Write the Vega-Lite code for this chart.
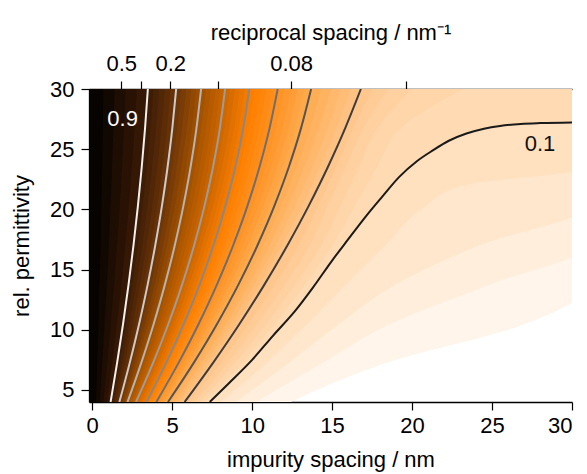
{
"width": 483, "height": 313,
"autosize": {"type": "none"},
"padding": {"left": 89, "top": 89, "right": 15, "bottom": 72},
"background": "#ffffff",
"config": {"font": "Liberation Sans", "view": {"stroke": null},
 "axis": {"domainColor": "#000", "tickColor": "#000", "labelColor": "#000", "titleColor": "#000", "labelFontSize": 22, "titleFontSize": 22, "titleFontWeight": "normal", "tickSize": 8, "grid": false, "domainWidth": 1.3, "tickWidth": 1.2}},
"resolve": {"axis": {"x": "independent", "y": "independent"}},
"datasets": {
"bands": [
{"l":0.02,"y":4,"x":12.4},{"l":0.02,"y":7.25,"x":18.38},{"l":0.02,"y":10.5,"x":27.1},{"l":0.02,"y":13.75,"x":31},{"l":0.02,"y":17,"x":31},{"l":0.02,"y":20.25,"x":31},{"l":0.02,"y":23.5,"x":31},{"l":0.02,"y":26.75,"x":31},{"l":0.02,"y":30,"x":31},
{"l":0.04,"y":4,"x":10.23},{"l":0.04,"y":7.25,"x":14.39},{"l":0.04,"y":10.5,"x":18.66},{"l":0.04,"y":13.75,"x":24.83},{"l":0.04,"y":17,"x":31},{"l":0.04,"y":20.25,"x":31},{"l":0.04,"y":23.5,"x":31},{"l":0.04,"y":26.75,"x":31},{"l":0.04,"y":30,"x":31},
{"l":0.06,"y":4,"x":8.95},{"l":0.06,"y":7.25,"x":12.3},{"l":0.06,"y":10.5,"x":15.46},{"l":0.06,"y":13.75,"x":18.95},{"l":0.06,"y":17,"x":24.18},{"l":0.06,"y":20.25,"x":31},{"l":0.06,"y":23.5,"x":31},{"l":0.06,"y":26.75,"x":31},{"l":0.06,"y":30,"x":31},
{"l":0.08,"y":4,"x":8.05},{"l":0.08,"y":7.25,"x":10.89},{"l":0.08,"y":10.5,"x":13.45},{"l":0.08,"y":13.75,"x":15.85},{"l":0.08,"y":17,"x":18.3},{"l":0.08,"y":20.25,"x":20.8},{"l":0.08,"y":22,"x":23.2},{"l":0.08,"y":23.5,"x":31},{"l":0.08,"y":26.75,"x":31},{"l":0.08,"y":30,"x":31},
{"l":0.1,"y":4,"x":7.35},{"l":0.1,"y":5.5,"x":8.5},{"l":0.1,"y":7.5,"x":10},{"l":0.1,"y":9.5,"x":11.3},{"l":0.1,"y":11.5,"x":12.65},{"l":0.1,"y":13.5,"x":13.8},{"l":0.1,"y":15.75,"x":15},{"l":0.1,"y":17.5,"x":16},{"l":0.1,"y":19.4,"x":17.1},{"l":0.1,"y":21,"x":18.1},{"l":0.1,"y":22.7,"x":19.2},{"l":0.1,"y":24,"x":20.3},{"l":0.1,"y":24.9,"x":21.3},{"l":0.1,"y":25.7,"x":22.3},{"l":0.1,"y":26.3,"x":23.4},{"l":0.1,"y":26.7,"x":24.5},{"l":0.1,"y":26.93,"x":25.5},{"l":0.1,"y":27.1,"x":26.8},{"l":0.1,"y":27.17,"x":28},{"l":0.1,"y":27.22,"x":30},{"l":0.1,"y":27.3,"x":31},{"l":0.1,"y":30,"x":31},
{"l":0.12,"y":4,"x":7.036},{"l":0.12,"y":7.25,"x":9.356},{"l":0.12,"y":10.5,"x":11.426},{"l":0.12,"y":13.75,"x":13.294},{"l":0.12,"y":17,"x":15.008},{"l":0.12,"y":20.25,"x":16.4},{"l":0.12,"y":23.5,"x":17.8},{"l":0.12,"y":26.75,"x":19.29},{"l":0.12,"y":30,"x":23.17},
{"l":0.14,"y":4,"x":6.722},{"l":0.14,"y":7.25,"x":8.906},{"l":0.14,"y":10.5,"x":10.874},{"l":0.14,"y":13.75,"x":12.662},{"l":0.14,"y":17,"x":14.306},{"l":0.14,"y":20.25,"x":15.5},{"l":0.14,"y":23.5,"x":16.65},{"l":0.14,"y":26.75,"x":17.83},{"l":0.14,"y":30,"x":19.99},
{"l":0.16,"y":4,"x":6.408},{"l":0.16,"y":7.25,"x":8.456},{"l":0.16,"y":10.5,"x":10.322},{"l":0.16,"y":13.75,"x":12.03},{"l":0.16,"y":17,"x":13.604},{"l":0.16,"y":20.25,"x":14.7},{"l":0.16,"y":23.5,"x":15.84},{"l":0.16,"y":26.75,"x":16.95},{"l":0.16,"y":30,"x":18.5},
{"l":0.18,"y":4,"x":6.094},{"l":0.18,"y":7.25,"x":8.006},{"l":0.18,"y":10.5,"x":9.77},{"l":0.18,"y":13.75,"x":11.398},{"l":0.18,"y":17,"x":12.902},{"l":0.18,"y":20.25,"x":14.1},{"l":0.18,"y":23.5,"x":15.23},{"l":0.18,"y":26.75,"x":16.31},{"l":0.18,"y":30,"x":17.53},
{"l":0.2,"y":4,"x":5.78},{"l":0.2,"y":7.25,"x":7.556},{"l":0.2,"y":10.5,"x":9.218},{"l":0.2,"y":13.75,"x":10.766},{"l":0.2,"y":17,"x":12.2},{"l":0.2,"y":20.25,"x":13.521},{"l":0.2,"y":23.5,"x":14.728},{"l":0.2,"y":26.75,"x":15.821},{"l":0.2,"y":30,"x":16.8},
{"l":0.22,"y":4,"x":5.572},{"l":0.22,"y":7.25,"x":7.314},{"l":0.22,"y":10.5,"x":8.937},{"l":0.22,"y":13.75,"x":10.441},{"l":0.22,"y":17,"x":11.826},{"l":0.22,"y":20.25,"x":13.093},{"l":0.22,"y":23.5,"x":14.24},{"l":0.22,"y":26.75,"x":15.269},{"l":0.22,"y":30,"x":16.178},
{"l":0.24,"y":4,"x":5.364},{"l":0.24,"y":7.25,"x":7.072},{"l":0.24,"y":10.5,"x":8.656},{"l":0.24,"y":13.75,"x":10.116},{"l":0.24,"y":17,"x":11.452},{"l":0.24,"y":20.25,"x":12.664},{"l":0.24,"y":23.5,"x":13.752},{"l":0.24,"y":26.75,"x":14.716},{"l":0.24,"y":30,"x":15.556},
{"l":0.26,"y":4,"x":5.156},{"l":0.26,"y":7.25,"x":6.831},{"l":0.26,"y":10.5,"x":8.376},{"l":0.26,"y":13.75,"x":9.792},{"l":0.26,"y":17,"x":11.078},{"l":0.26,"y":20.25,"x":12.236},{"l":0.26,"y":23.5,"x":13.265},{"l":0.26,"y":26.75,"x":14.164},{"l":0.26,"y":30,"x":14.934},
{"l":0.28,"y":4,"x":4.948},{"l":0.28,"y":7.25,"x":6.589},{"l":0.28,"y":10.5,"x":8.095},{"l":0.28,"y":13.75,"x":9.467},{"l":0.28,"y":17,"x":10.704},{"l":0.28,"y":20.25,"x":11.807},{"l":0.28,"y":23.5,"x":12.777},{"l":0.28,"y":26.75,"x":13.611},{"l":0.28,"y":30,"x":14.312},
{"l":0.3,"y":4,"x":4.74},{"l":0.3,"y":7.25,"x":6.347},{"l":0.3,"y":10.5,"x":7.814},{"l":0.3,"y":13.75,"x":9.142},{"l":0.3,"y":17,"x":10.33},{"l":0.3,"y":20.25,"x":11.379},{"l":0.3,"y":23.5,"x":12.289},{"l":0.3,"y":26.75,"x":13.059},{"l":0.3,"y":30,"x":13.69},
{"l":0.32,"y":4,"x":4.594},{"l":0.32,"y":7.25,"x":6.157},{"l":0.32,"y":10.5,"x":7.583},{"l":0.32,"y":13.75,"x":8.873},{"l":0.32,"y":17,"x":10.026},{"l":0.32,"y":20.25,"x":11.042},{"l":0.32,"y":23.5,"x":11.922},{"l":0.32,"y":26.75,"x":12.665},{"l":0.32,"y":30,"x":13.272},
{"l":0.34,"y":4,"x":4.448},{"l":0.34,"y":7.25,"x":5.967},{"l":0.34,"y":10.5,"x":7.353},{"l":0.34,"y":13.75,"x":8.604},{"l":0.34,"y":17,"x":9.722},{"l":0.34,"y":20.25,"x":10.706},{"l":0.34,"y":23.5,"x":11.556},{"l":0.34,"y":26.75,"x":12.272},{"l":0.34,"y":30,"x":12.854},
{"l":0.36,"y":4,"x":4.302},{"l":0.36,"y":7.25,"x":5.778},{"l":0.36,"y":10.5,"x":7.122},{"l":0.36,"y":13.75,"x":8.336},{"l":0.36,"y":17,"x":9.418},{"l":0.36,"y":20.25,"x":10.369},{"l":0.36,"y":23.5,"x":11.189},{"l":0.36,"y":26.75,"x":11.878},{"l":0.36,"y":30,"x":12.436},
{"l":0.38,"y":4,"x":4.156},{"l":0.38,"y":7.25,"x":5.588},{"l":0.38,"y":10.5,"x":6.892},{"l":0.38,"y":13.75,"x":8.067},{"l":0.38,"y":17,"x":9.114},{"l":0.38,"y":20.25,"x":10.033},{"l":0.38,"y":23.5,"x":10.823},{"l":0.38,"y":26.75,"x":11.485},{"l":0.38,"y":30,"x":12.018},
{"l":0.4,"y":4,"x":4.01},{"l":0.4,"y":7.25,"x":5.398},{"l":0.4,"y":10.5,"x":6.661},{"l":0.4,"y":13.75,"x":7.798},{"l":0.4,"y":17,"x":8.81},{"l":0.4,"y":20.25,"x":9.696},{"l":0.4,"y":23.5,"x":10.456},{"l":0.4,"y":26.75,"x":11.091},{"l":0.4,"y":30,"x":11.6},
{"l":0.42,"y":4,"x":3.888},{"l":0.42,"y":7.25,"x":5.244},{"l":0.42,"y":10.5,"x":6.475},{"l":0.42,"y":13.75,"x":7.582},{"l":0.42,"y":17,"x":8.564},{"l":0.42,"y":20.25,"x":9.421},{"l":0.42,"y":23.5,"x":10.154},{"l":0.42,"y":26.75,"x":10.762},{"l":0.42,"y":30,"x":11.246},
{"l":0.44,"y":4,"x":3.766},{"l":0.44,"y":7.25,"x":5.089},{"l":0.44,"y":10.5,"x":6.289},{"l":0.44,"y":13.75,"x":7.365},{"l":0.44,"y":17,"x":8.318},{"l":0.44,"y":20.25,"x":9.147},{"l":0.44,"y":23.5,"x":9.852},{"l":0.44,"y":26.75,"x":10.434},{"l":0.44,"y":30,"x":10.892},
{"l":0.46,"y":4,"x":3.644},{"l":0.46,"y":7.25,"x":4.935},{"l":0.46,"y":10.5,"x":6.103},{"l":0.46,"y":13.75,"x":7.149},{"l":0.46,"y":17,"x":8.072},{"l":0.46,"y":20.25,"x":8.872},{"l":0.46,"y":23.5,"x":9.55},{"l":0.46,"y":26.75,"x":10.105},{"l":0.46,"y":30,"x":10.538},
{"l":0.48,"y":4,"x":3.522},{"l":0.48,"y":7.25,"x":4.78},{"l":0.48,"y":10.5,"x":5.917},{"l":0.48,"y":13.75,"x":6.932},{"l":0.48,"y":17,"x":7.826},{"l":0.48,"y":20.25,"x":8.598},{"l":0.48,"y":23.5,"x":9.248},{"l":0.48,"y":26.75,"x":9.777},{"l":0.48,"y":30,"x":10.184},
{"l":0.5,"y":4,"x":3.4},{"l":0.5,"y":7.25,"x":4.626},{"l":0.5,"y":10.5,"x":5.731},{"l":0.5,"y":13.75,"x":6.716},{"l":0.5,"y":17,"x":7.58},{"l":0.5,"y":20.25,"x":8.323},{"l":0.5,"y":23.5,"x":8.946},{"l":0.5,"y":26.75,"x":9.448},{"l":0.5,"y":30,"x":9.83},
{"l":0.52,"y":4,"x":3.268},{"l":0.52,"y":7.25,"x":4.462},{"l":0.52,"y":10.5,"x":5.538},{"l":0.52,"y":13.75,"x":6.497},{"l":0.52,"y":17,"x":7.338},{"l":0.52,"y":20.25,"x":8.061},{"l":0.52,"y":23.5,"x":8.667},{"l":0.52,"y":26.75,"x":9.155},{"l":0.52,"y":30,"x":9.526},
{"l":0.54,"y":4,"x":3.136},{"l":0.54,"y":7.25,"x":4.298},{"l":0.54,"y":10.5,"x":5.345},{"l":0.54,"y":13.75,"x":6.278},{"l":0.54,"y":17,"x":7.096},{"l":0.54,"y":20.25,"x":7.799},{"l":0.54,"y":23.5,"x":8.388},{"l":0.54,"y":26.75,"x":8.862},{"l":0.54,"y":30,"x":9.222},
{"l":0.56,"y":4,"x":3.004},{"l":0.56,"y":7.25,"x":4.134},{"l":0.56,"y":10.5,"x":5.152},{"l":0.56,"y":13.75,"x":6.059},{"l":0.56,"y":17,"x":6.854},{"l":0.56,"y":20.25,"x":7.537},{"l":0.56,"y":23.5,"x":8.109},{"l":0.56,"y":26.75,"x":8.569},{"l":0.56,"y":30,"x":8.918},
{"l":0.58,"y":4,"x":2.872},{"l":0.58,"y":7.25,"x":3.97},{"l":0.58,"y":10.5,"x":4.959},{"l":0.58,"y":13.75,"x":5.84},{"l":0.58,"y":17,"x":6.612},{"l":0.58,"y":20.25,"x":7.275},{"l":0.58,"y":23.5,"x":7.83},{"l":0.58,"y":26.75,"x":8.276},{"l":0.58,"y":30,"x":8.614},
{"l":0.6,"y":4,"x":2.74},{"l":0.6,"y":7.25,"x":3.806},{"l":0.6,"y":10.5,"x":4.766},{"l":0.6,"y":13.75,"x":5.621},{"l":0.6,"y":17,"x":6.37},{"l":0.6,"y":20.25,"x":7.013},{"l":0.6,"y":23.5,"x":7.551},{"l":0.6,"y":26.75,"x":7.983},{"l":0.6,"y":30,"x":8.31},
{"l":0.62,"y":4,"x":2.634},{"l":0.62,"y":7.25,"x":3.659},{"l":0.62,"y":10.5,"x":4.582},{"l":0.62,"y":13.75,"x":5.406},{"l":0.62,"y":17,"x":6.128},{"l":0.62,"y":20.25,"x":6.749},{"l":0.62,"y":23.5,"x":7.27},{"l":0.62,"y":26.75,"x":7.69},{"l":0.62,"y":30,"x":8.01},
{"l":0.64,"y":4,"x":2.528},{"l":0.64,"y":7.25,"x":3.511},{"l":0.64,"y":10.5,"x":4.399},{"l":0.64,"y":13.75,"x":5.19},{"l":0.64,"y":17,"x":5.886},{"l":0.64,"y":20.25,"x":6.485},{"l":0.64,"y":23.5,"x":6.99},{"l":0.64,"y":26.75,"x":7.397},{"l":0.64,"y":30,"x":7.71},
{"l":0.66,"y":4,"x":2.422},{"l":0.66,"y":7.25,"x":3.364},{"l":0.66,"y":10.5,"x":4.215},{"l":0.66,"y":13.75,"x":4.975},{"l":0.66,"y":17,"x":5.644},{"l":0.66,"y":20.25,"x":6.222},{"l":0.66,"y":23.5,"x":6.709},{"l":0.66,"y":26.75,"x":7.105},{"l":0.66,"y":30,"x":7.41},
{"l":0.68,"y":4,"x":2.316},{"l":0.68,"y":7.25,"x":3.216},{"l":0.68,"y":10.5,"x":4.032},{"l":0.68,"y":13.75,"x":4.759},{"l":0.68,"y":17,"x":5.402},{"l":0.68,"y":20.25,"x":5.958},{"l":0.68,"y":23.5,"x":6.429},{"l":0.68,"y":26.75,"x":6.812},{"l":0.68,"y":30,"x":7.11},
{"l":0.7,"y":4,"x":2.21},{"l":0.7,"y":7.25,"x":3.069},{"l":0.7,"y":10.5,"x":3.848},{"l":0.7,"y":13.75,"x":4.544},{"l":0.7,"y":17,"x":5.16},{"l":0.7,"y":20.25,"x":5.694},{"l":0.7,"y":23.5,"x":6.148},{"l":0.7,"y":26.75,"x":6.519},{"l":0.7,"y":30,"x":6.81},
{"l":0.72,"y":4,"x":2.108},{"l":0.72,"y":7.25,"x":2.925},{"l":0.72,"y":10.5,"x":3.666},{"l":0.72,"y":13.75,"x":4.329},{"l":0.72,"y":17,"x":4.916},{"l":0.72,"y":20.25,"x":5.426},{"l":0.72,"y":23.5,"x":5.861},{"l":0.72,"y":26.75,"x":6.217},{"l":0.72,"y":30,"x":6.498},
{"l":0.74,"y":4,"x":2.006},{"l":0.74,"y":7.25,"x":2.78},{"l":0.74,"y":10.5,"x":3.483},{"l":0.74,"y":13.75,"x":4.113},{"l":0.74,"y":17,"x":4.672},{"l":0.74,"y":20.25,"x":5.158},{"l":0.74,"y":23.5,"x":5.573},{"l":0.74,"y":26.75,"x":5.915},{"l":0.74,"y":30,"x":6.186},
{"l":0.76,"y":4,"x":1.904},{"l":0.76,"y":7.25,"x":2.636},{"l":0.76,"y":10.5,"x":3.301},{"l":0.76,"y":13.75,"x":3.898},{"l":0.76,"y":17,"x":4.428},{"l":0.76,"y":20.25,"x":4.891},{"l":0.76,"y":23.5,"x":5.286},{"l":0.76,"y":26.75,"x":5.614},{"l":0.76,"y":30,"x":5.874},
{"l":0.78,"y":4,"x":1.802},{"l":0.78,"y":7.25,"x":2.491},{"l":0.78,"y":10.5,"x":3.118},{"l":0.78,"y":13.75,"x":3.682},{"l":0.78,"y":17,"x":4.184},{"l":0.78,"y":20.25,"x":4.623},{"l":0.78,"y":23.5,"x":4.998},{"l":0.78,"y":26.75,"x":5.312},{"l":0.78,"y":30,"x":5.562},
{"l":0.8,"y":4,"x":1.7},{"l":0.8,"y":7.25,"x":2.347},{"l":0.8,"y":10.5,"x":2.936},{"l":0.8,"y":13.75,"x":3.467},{"l":0.8,"y":17,"x":3.94},{"l":0.8,"y":20.25,"x":4.355},{"l":0.8,"y":23.5,"x":4.711},{"l":0.8,"y":26.75,"x":5.01},{"l":0.8,"y":30,"x":5.25},
{"l":0.82,"y":4,"x":1.59},{"l":0.82,"y":7.25,"x":2.189},{"l":0.82,"y":10.5,"x":2.735},{"l":0.82,"y":13.75,"x":3.228},{"l":0.82,"y":17,"x":3.668},{"l":0.82,"y":20.25,"x":4.055},{"l":0.82,"y":23.5,"x":4.388},{"l":0.82,"y":26.75,"x":4.669},{"l":0.82,"y":30,"x":4.896},
{"l":0.84,"y":4,"x":1.48},{"l":0.84,"y":7.25,"x":2.031},{"l":0.84,"y":10.5,"x":2.534},{"l":0.84,"y":13.75,"x":2.989},{"l":0.84,"y":17,"x":3.396},{"l":0.84,"y":20.25,"x":3.755},{"l":0.84,"y":23.5,"x":4.065},{"l":0.84,"y":26.75,"x":4.328},{"l":0.84,"y":30,"x":4.542},
{"l":0.86,"y":4,"x":1.37},{"l":0.86,"y":7.25,"x":1.873},{"l":0.86,"y":10.5,"x":2.333},{"l":0.86,"y":13.75,"x":2.75},{"l":0.86,"y":17,"x":3.124},{"l":0.86,"y":20.25,"x":3.455},{"l":0.86,"y":23.5,"x":3.742},{"l":0.86,"y":26.75,"x":3.987},{"l":0.86,"y":30,"x":4.188},
{"l":0.88,"y":4,"x":1.26},{"l":0.88,"y":7.25,"x":1.715},{"l":0.88,"y":10.5,"x":2.132},{"l":0.88,"y":13.75,"x":2.511},{"l":0.88,"y":17,"x":2.852},{"l":0.88,"y":20.25,"x":3.155},{"l":0.88,"y":23.5,"x":3.419},{"l":0.88,"y":26.75,"x":3.646},{"l":0.88,"y":30,"x":3.834},
{"l":0.9,"y":4,"x":1.15},{"l":0.9,"y":7.25,"x":1.557},{"l":0.9,"y":10.5,"x":1.931},{"l":0.9,"y":13.75,"x":2.272},{"l":0.9,"y":17,"x":2.58},{"l":0.9,"y":20.25,"x":2.855},{"l":0.9,"y":23.5,"x":3.096},{"l":0.9,"y":26.75,"x":3.305},{"l":0.9,"y":30,"x":3.48},
{"l":0.92,"y":4,"x":0.92},{"l":0.92,"y":7.25,"x":1.246},{"l":0.92,"y":10.5,"x":1.545},{"l":0.92,"y":13.75,"x":1.818},{"l":0.92,"y":17,"x":2.064},{"l":0.92,"y":20.25,"x":2.284},{"l":0.92,"y":23.5,"x":2.477},{"l":0.92,"y":26.75,"x":2.644},{"l":0.92,"y":30,"x":2.784},
{"l":0.94,"y":4,"x":0.69},{"l":0.94,"y":7.25,"x":0.934},{"l":0.94,"y":10.5,"x":1.159},{"l":0.94,"y":13.75,"x":1.363},{"l":0.94,"y":17,"x":1.548},{"l":0.94,"y":20.25,"x":1.713},{"l":0.94,"y":23.5,"x":1.858},{"l":0.94,"y":26.75,"x":1.983},{"l":0.94,"y":30,"x":2.088},
{"l":0.96,"y":4,"x":0.46},{"l":0.96,"y":7.25,"x":0.623},{"l":0.96,"y":10.5,"x":0.772},{"l":0.96,"y":13.75,"x":0.909},{"l":0.96,"y":17,"x":1.032},{"l":0.96,"y":20.25,"x":1.142},{"l":0.96,"y":23.5,"x":1.238},{"l":0.96,"y":26.75,"x":1.322},{"l":0.96,"y":30,"x":1.392},
{"l":0.98,"y":4,"x":0.23},{"l":0.98,"y":7.25,"x":0.311},{"l":0.98,"y":10.5,"x":0.386},{"l":0.98,"y":13.75,"x":0.454},{"l":0.98,"y":17,"x":0.516},{"l":0.98,"y":20.25,"x":0.571},{"l":0.98,"y":23.5,"x":0.619},{"l":0.98,"y":26.75,"x":0.661},{"l":0.98,"y":30,"x":0.696}
],
"lines": [
{"lv":"0.9","x":1.15,"y":4},{"lv":"0.9","x":1.557,"y":7.25},{"lv":"0.9","x":1.931,"y":10.5},{"lv":"0.9","x":2.272,"y":13.75},{"lv":"0.9","x":2.58,"y":17},{"lv":"0.9","x":2.855,"y":20.25},{"lv":"0.9","x":3.096,"y":23.5},{"lv":"0.9","x":3.305,"y":26.75},{"lv":"0.9","x":3.48,"y":30},
{"lv":"0.8","x":1.7,"y":4},{"lv":"0.8","x":2.347,"y":7.25},{"lv":"0.8","x":2.936,"y":10.5},{"lv":"0.8","x":3.467,"y":13.75},{"lv":"0.8","x":3.94,"y":17},{"lv":"0.8","x":4.355,"y":20.25},{"lv":"0.8","x":4.711,"y":23.5},{"lv":"0.8","x":5.01,"y":26.75},{"lv":"0.8","x":5.25,"y":30},
{"lv":"0.7","x":2.21,"y":4},{"lv":"0.7","x":3.069,"y":7.25},{"lv":"0.7","x":3.848,"y":10.5},{"lv":"0.7","x":4.544,"y":13.75},{"lv":"0.7","x":5.16,"y":17},{"lv":"0.7","x":5.694,"y":20.25},{"lv":"0.7","x":6.148,"y":23.5},{"lv":"0.7","x":6.519,"y":26.75},{"lv":"0.7","x":6.81,"y":30},
{"lv":"0.6","x":2.74,"y":4},{"lv":"0.6","x":3.806,"y":7.25},{"lv":"0.6","x":4.766,"y":10.5},{"lv":"0.6","x":5.621,"y":13.75},{"lv":"0.6","x":6.37,"y":17},{"lv":"0.6","x":7.013,"y":20.25},{"lv":"0.6","x":7.551,"y":23.5},{"lv":"0.6","x":7.983,"y":26.75},{"lv":"0.6","x":8.31,"y":30},
{"lv":"0.5","x":3.4,"y":4},{"lv":"0.5","x":4.626,"y":7.25},{"lv":"0.5","x":5.731,"y":10.5},{"lv":"0.5","x":6.716,"y":13.75},{"lv":"0.5","x":7.58,"y":17},{"lv":"0.5","x":8.323,"y":20.25},{"lv":"0.5","x":8.946,"y":23.5},{"lv":"0.5","x":9.448,"y":26.75},{"lv":"0.5","x":9.83,"y":30},
{"lv":"0.4","x":4.01,"y":4},{"lv":"0.4","x":5.398,"y":7.25},{"lv":"0.4","x":6.661,"y":10.5},{"lv":"0.4","x":7.798,"y":13.75},{"lv":"0.4","x":8.81,"y":17},{"lv":"0.4","x":9.696,"y":20.25},{"lv":"0.4","x":10.456,"y":23.5},{"lv":"0.4","x":11.091,"y":26.75},{"lv":"0.4","x":11.6,"y":30},
{"lv":"0.3","x":4.74,"y":4},{"lv":"0.3","x":6.347,"y":7.25},{"lv":"0.3","x":7.814,"y":10.5},{"lv":"0.3","x":9.142,"y":13.75},{"lv":"0.3","x":10.33,"y":17},{"lv":"0.3","x":11.379,"y":20.25},{"lv":"0.3","x":12.289,"y":23.5},{"lv":"0.3","x":13.059,"y":26.75},{"lv":"0.3","x":13.69,"y":30},
{"lv":"0.2","x":5.78,"y":4},{"lv":"0.2","x":7.556,"y":7.25},{"lv":"0.2","x":9.218,"y":10.5},{"lv":"0.2","x":10.766,"y":13.75},{"lv":"0.2","x":12.2,"y":17},{"lv":"0.2","x":13.521,"y":20.25},{"lv":"0.2","x":14.728,"y":23.5},{"lv":"0.2","x":15.821,"y":26.75},{"lv":"0.2","x":16.8,"y":30},
{"lv":"0.1","x":7.35,"y":4},{"lv":"0.1","x":8.5,"y":5.5},{"lv":"0.1","x":10.0,"y":7.5},{"lv":"0.1","x":11.3,"y":9.5},{"lv":"0.1","x":12.65,"y":11.5},{"lv":"0.1","x":13.8,"y":13.5},{"lv":"0.1","x":15.0,"y":15.75},{"lv":"0.1","x":16.0,"y":17.5},{"lv":"0.1","x":17.1,"y":19.4},{"lv":"0.1","x":18.1,"y":21},{"lv":"0.1","x":19.2,"y":22.7},{"lv":"0.1","x":20.3,"y":24},{"lv":"0.1","x":21.3,"y":24.9},{"lv":"0.1","x":22.3,"y":25.7},{"lv":"0.1","x":23.4,"y":26.3},{"lv":"0.1","x":24.5,"y":26.7},{"lv":"0.1","x":25.5,"y":26.93},{"lv":"0.1","x":26.8,"y":27.1},{"lv":"0.1","x":28.0,"y":27.17},{"lv":"0.1","x":30,"y":27.22}
],
"labels": [{"t":"0.9","x":1.9,"y":27.5},{"t":"0.1","x":28.0,"y":25.4}]
},
"layer": [
{"data": {"name": "bands"},
 "mark": {"type": "area", "orient": "horizontal", "interpolate": "monotone", "clip": true},
 "encoding": {
  "y": {"field": "y", "type": "quantitative", "scale": {"domain": [4, 30], "nice": false, "zero": false},
   "axis": {"orient": "left", "values": [5,10,15,20,25,30], "title": "rel.  permittivity", "labelPadding": 7, "titlePadding": 16}},
  "x": {"field": "x", "type": "quantitative", "stack": null, "scale": {"domain": [-0.2, 30], "nice": false, "zero": false},
   "axis": {"orient": "bottom", "values": [0,5,10,15,20,25,30], "title": "impurity spacing / nm", "labelPadding": 5, "titlePadding": 13}},
  "x2": {"datum": -0.2},
  "detail": {"field": "l", "type": "quantitative"},
  "color": {"field": "l", "type": "quantitative", "legend": null,
   "scale": {"domain": [-0.01,0.09,0.19,0.29,0.39,0.47,0.59,0.69,0.79,0.89,0.99], "range": ["#ffffff","#ffdcb8","#ffc488","#ffac50","#ff9020","#ff8000","#cc6600","#a05000","#6a3408","#3a1a05","#000000"], "interpolate": "rgb", "clamp": true}}
 }},
{"data": {"name": "lines"},
 "mark": {"type": "line", "strokeWidth": 2, "interpolate": "monotone", "clip": true},
 "encoding": {
  "x": {"field": "x", "type": "quantitative",
   "axis": {"orient": "top", "values": [1.82,3.05,4.88,7.85,12.44,19.62], "labelExpr": "datum.value == 1.82 ? '0.5' : datum.value == 4.88 ? '0.2' : datum.value == 12.44 ? '0.08' : ''", "title": "reciprocal spacing / nm⁻¹", "labelPadding": 6, "titlePadding": 8}},
  "y": {"field": "y", "type": "quantitative", "axis": null},
  "stroke": {"field": "lv", "type": "nominal", "legend": null,
   "scale": {"domain": ["0.1","0.2","0.3","0.4","0.5","0.6","0.7","0.8","0.9"], "range": ["#1a1a1a","#3c3c3c","#555555","#6e6e6e","#888888","#9c9c9c","#b4b4b4","#cccccc","#f0f0f0"]}},
  "order": {"field": "y", "type": "quantitative"}
 }},
{"data": {"name": "labels"},
 "mark": {"type": "text", "fontSize": 22, "baseline": "middle", "align": "center"},
 "encoding": {
  "x": {"field": "x", "type": "quantitative", "axis": null},
  "y": {"field": "y", "type": "quantitative", "axis": null},
  "text": {"field": "t"},
  "color": {"condition": {"test": "datum.t == '0.9'", "value": "#ffffff"}, "value": "#111111"}
 }}
]
}
